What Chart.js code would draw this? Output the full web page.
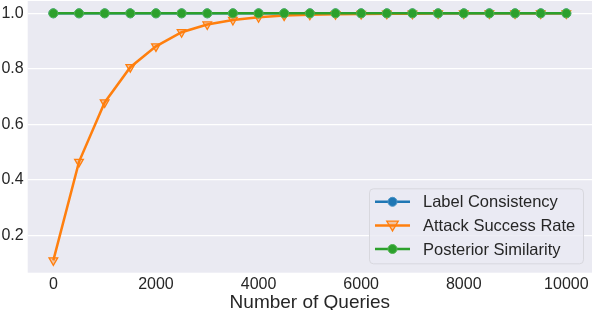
<!DOCTYPE html>
<html>
<head>
<meta charset="utf-8">
<script src="https://cdn.jsdelivr.net/npm/chart.js@4/dist/chart.umd.min.js"></script>
<style>
html,body{margin:0;padding:0;background:#fff;}
#wrap{width:592px;height:310px;position:relative;}
</style>
</head>
<body>
<div id="wrap"><canvas id="c" width="592" height="310"></canvas></div>
<script>
const queries = [0,500,1000,1500,2000,2500,3000,3500,4000,4500,5000,5500,6000,6500,7000,7500,8000,8500,9000,9500,10000];
const labelConsistency = [1,1,1,1,1,1,1,1,1,1,1,1,1,1,1,1,1,1,1,1,1];
const attackSuccessRate = [0.11,0.465,0.679,0.806,0.881,0.932,0.960,0.976,0.986,0.992,0.995,0.997,0.998,0.999,0.999,1.0,1.0,1.0,1.0,1.0,1.0];
const posteriorSimilarity = [1,1,1,1,1,1,1,1,1,1,1,1,1,1,1,1,1,1,1,1,1];
const xTicks = [0,2000,4000,6000,8000,10000];
const yTicks = [0.2,0.4,0.6,0.8,1.0];
const seriesNames = ['Label Consistency','Attack Success Rate','Posterior Similarity'];

const FONT = "'Liberation Sans', Arial, sans-serif";
const TXT = '#262626';
const C_BLUE = '#1f77b4', C_ORANGE = '#ff7f0e', C_GREEN = '#2ca02c';

function pts(xs, ys){ return xs.map((x,i)=>({x:x, y:ys[i]})); }

const bgPlugin = {
  id:'bg',
  beforeDraw(chart){
    const {ctx, chartArea:a} = chart;
    ctx.save();
    ctx.fillStyle = '#eaeaf2';
    ctx.fillRect(a.left, a.top, a.right-a.left, a.bottom-a.top);
    ctx.restore();
  }
};

function drawMarker(ctx, ds, x, y){
  ctx.save();
  ctx.lineWidth = ds.pointBorderWidth;
  ctx.strokeStyle = ds.pointBorderColor;
  ctx.fillStyle = ds.pointBackgroundColor;
  const r = ds.pointRadius;
  ctx.beginPath();
  if (ds.pointStyle === 'triangle') {
    const s = r*1.15;
    ctx.moveTo(x - s, y - s*0.75);
    ctx.lineTo(x + s, y - s*0.75);
    ctx.lineTo(x, y + s*0.95);
    ctx.closePath();
  } else {
    ctx.arc(x, y, r, 0, Math.PI*2);
  }
  ctx.fill();
  ctx.stroke();
  ctx.restore();
}

const legendPlugin = {
  id:'innerLegend',
  afterDraw(chart){
    const {ctx, chartArea:a} = chart;
    const w = 214, h = 75;
    const x0 = a.right - 9 - w, y0 = a.bottom - 9.4 - h;
    ctx.save();
    ctx.beginPath();
    if (ctx.roundRect) ctx.roundRect(x0+0.5, y0+0.5, w, h, 4); else ctx.rect(x0+0.5,y0+0.5,w,h);
    ctx.fillStyle = 'rgba(234,234,242,0.8)';
    ctx.fill();
    ctx.strokeStyle = '#d8d8de';
    ctx.lineWidth = 1;
    ctx.stroke();
    ctx.font = "16.5px " + FONT;
    ctx.fillStyle = TXT;
    ctx.textBaseline = 'middle';
    ctx.textAlign = 'left';
    chart.data.datasets.forEach((ds, i) => {
      const cy = y0 + 13.5 + i*23.6;
      ctx.beginPath();
      ctx.strokeStyle = ds.borderColor;
      ctx.lineWidth = ds.borderWidth;
      ctx.moveTo(x0 + 6, cy);
      ctx.lineTo(x0 + 41, cy);
      ctx.stroke();
      drawMarker(ctx, ds, x0 + 23.5, cy);
      ctx.fillStyle = TXT;
      ctx.fillText(ds.label, x0 + 54, cy + 1);
    });
    ctx.restore();
  }
};

const chart = new Chart(document.getElementById('c'), {
  type:'line',
  data:{
    datasets:[
      {label:seriesNames[0], data:pts(queries,labelConsistency), borderColor:C_BLUE, borderWidth:2.5,
       pointStyle:'circle', pointRadius:4.5, pointBackgroundColor:C_BLUE, pointBorderColor:'#4a93c6', pointBorderWidth:1, order:3},
      {label:seriesNames[1], data:pts(queries,attackSuccessRate), borderColor:C_ORANGE, borderWidth:2.5,
       pointStyle:'triangle', rotation:180, pointRadius:5, pointBackgroundColor:'rgba(255,127,14,0.35)', pointBorderColor:C_ORANGE, pointBorderWidth:1.3, order:2},
      {label:seriesNames[2], data:pts(queries,posteriorSimilarity), borderColor:C_GREEN, borderWidth:2.5,
       pointStyle:'circle', pointRadius:4.5, pointBackgroundColor:C_GREEN, pointBorderColor:'#52b552', pointBorderWidth:1, order:1}
    ]
  },
  options:{
    responsive:false,
    animation:false,
    devicePixelRatio:1,
    layout:{autoPadding:false, padding:{top:1,right:0,left:0,bottom:0}},
    plugins:{legend:{display:false}, tooltip:{enabled:false}},
    elements:{line:{tension:0}},
    scales:{
      x:{
        type:'linear', min:-500, max:10500,
        afterBuildTicks(s){ s.ticks = xTicks.map(v=>({value:v})); },
        afterFit(s){ s.height = 37.3; s.paddingLeft = 0; s.paddingRight = 0; },
        grid:{display:false, drawTicks:false},
        border:{display:false},
        ticks:{font:{family:FONT,size:16}, color:TXT, padding:2, maxRotation:0, autoSkip:false, callback:(v)=>String(v)},
        title:{display:true, text:'Number of Queries', font:{family:FONT,size:19,lineHeight:1}, color:TXT, padding:{top:0,bottom:-2}}
      },
      y:{
        type:'linear', min:0.0655, max:1.0445,
        afterBuildTicks(s){ s.ticks = yTicks.map(v=>({value:v})); },
        afterFit(s){ s.width = 27.7; s.paddingTop = 0; s.paddingBottom = 0; },
        grid:{color:'#ffffff', lineWidth:1.2, drawTicks:false},
        border:{display:false},
        ticks:{font:{family:FONT,size:16}, color:TXT, padding:4, callback:(v)=>Number(v).toFixed(1)}
      }
    }
  },
  plugins:[bgPlugin, legendPlugin]
});
</script>
</body>
</html>
